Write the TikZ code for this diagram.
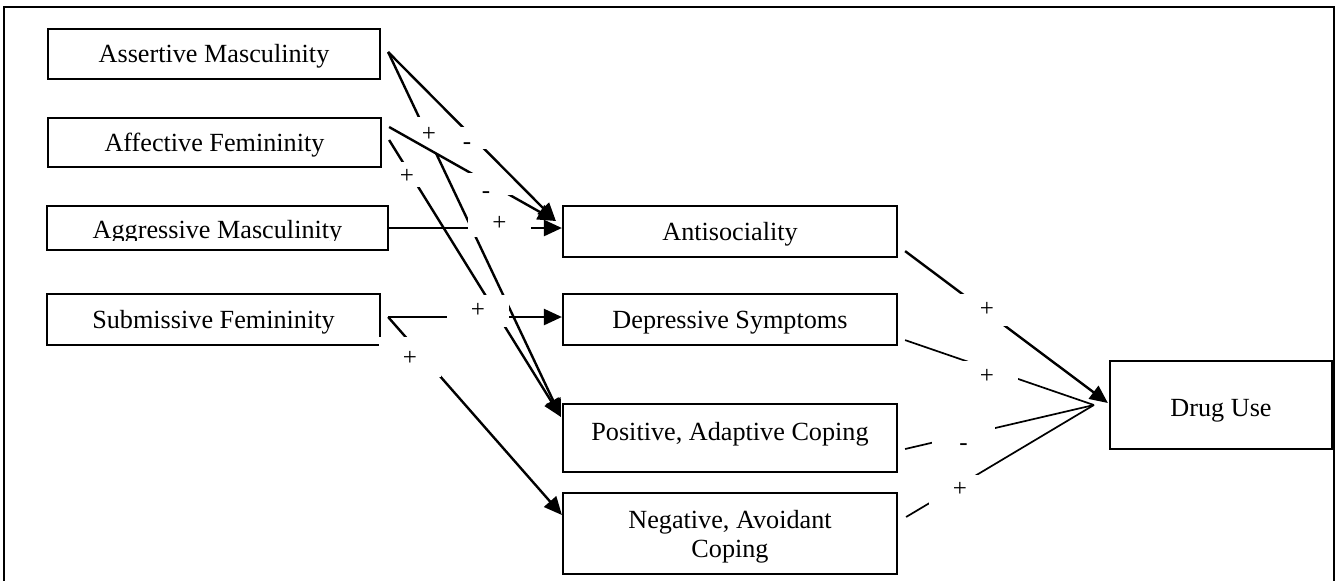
\documentclass[tikz,border=0pt]{standalone}
\usepackage{fontspec}
\setmainfont{Liberation Serif}
\usetikzlibrary{arrows.meta,calc}

\begin{document}
\begin{tikzpicture}[x=0.5pt,y=-0.5pt,
  box/.style={draw, line width=1.1pt, inner sep=0pt, font=\fontsize{13.1}{14.5}\selectfont},
  one/.style={text height=11.46pt, text depth=2.86pt},
  lbl/.style={fill=white, inner sep=0pt, font=\fontsize{12.5}{14}\selectfont, text height=6.25pt, text depth=0pt},
  conn/.style={line width=1.2pt},
  arr/.style={conn, -{Triangle[length=9pt,width=8pt]}},
  thinconn/.style={line width=0.85pt}]

\useasboundingbox (0,0) rectangle (1338,580);

% open frame round the model
\draw[line width=1.3pt] (4,600) -- (4,7) -- (1334,7) -- (1334,600);

% gender-role predictors
\node[box, one, minimum width=166pt, minimum height=25pt] (asrt) at (214,54) {Assertive Masculinity};
\node[box, one, minimum width=166.5pt, minimum height=24.5pt] (aff) at (214.5,142.5) {Affective Femininity};
\node[box, minimum width=170.5pt, minimum height=22pt] (aggr) at (217.5,228) {};
\begin{scope}
  \clip (40,200) rectangle (395,240);
  \node[box, draw=none, one] (aggrtxt) at (217.5,230) {Aggressive Masculinity};
\end{scope}
\node[box, one, minimum width=166.5pt, minimum height=25.5pt] (sub) at (213.5,319.5) {Submissive Femininity};

% mediators
\node[box, one, minimum width=167pt, minimum height=25.5pt] (anti) at (730,231.5) {Antisociality};
\node[box, one, minimum width=167pt, minimum height=25.5pt] (dep) at (730,319.5) {Depressive Symptoms};
\node[box, one, minimum width=167pt, minimum height=34pt] (pos) at (730,438) {\raisebox{3.25pt}{Positive, Adaptive Coping}};
\node[box, text height=12pt, text depth=17.5pt, minimum width=167pt, minimum height=40.5pt] (neg) at (730,533.5)
  {\begin{tabular}[t]{@{}c@{}}Negative, Avoidant\\Coping\end{tabular}};

% outcome
\node[box, one, minimum width=111pt, minimum height=44pt] (drug) at (1221,405) {\raisebox{-1.25pt}{Drug Use}};

% connector ends
\coordinate (s1) at ($(asrt.east)+(7,-2)$);
\coordinate (s3) at ($(aff.east)+(7,-15.5)$);
\coordinate (s4) at ($(aff.east)+(7,-2.5)$);
\coordinate (s6) at ($(sub.east)+(7,-2.5)$);
\coordinate (antiTip) at ($(anti.west)+(-6,-10.5)$);
\coordinate (t5) at ($(anti.west)+(0,-3.5)$);
\coordinate (posTip) at ($(pos.north west)+(-1,14)$);
\coordinate (t6) at ($(dep.west)+(0,-2.5)$);
\coordinate (t7) at ($(neg.west)+(0,-18.5)$);
\coordinate (aOut) at ($(anti.south east)+(7,-7)$);
\coordinate (dOut) at ($(dep.south east)+(7,-6)$);
\coordinate (pOut) at ($(pos.east)+(7,11)$);
\coordinate (nOut) at ($(neg.east)+(8,-16.5)$);
\coordinate (drugTip) at ($(drug.west)+(-1,-2)$);
\coordinate (conv) at ($(drug.west)+(-15,0)$);

% paths into the mediators, each with its sign
\draw[arr] (s1) -- (posTip);
\node[lbl, minimum width=18pt, minimum height=18pt] (p2) at (429,135) {+};
\draw[arr] (s4) -- (posTip);
\node[lbl, minimum width=20pt, minimum height=12.5pt] (p4) at (407,174.5) {\raisebox{-1.25pt}{+}};
\draw[arr] (aggr.east) -- (t5);
\node[lbl, minimum width=31.5pt, minimum height=13pt] (p5) at (499.5,224) {+};
\draw[arr] (s6) -- (t6);
\node[lbl, minimum width=31pt, minimum height=16pt] (p6) at (478,311) {+};
\draw[arr] (s6) -- (t7);
\node[lbl, minimum width=31pt, minimum height=20pt] (p7) at (410,357) {\raisebox{-1pt}{+}};
\draw[arr] (s3) -- (antiTip);
\node[lbl, minimum width=28pt, minimum height=11pt] (p3) at (486,184) {\raisebox{-4pt}{-}};
\draw[arr] (s1) -- (antiTip);
\node[lbl, minimum width=31pt, minimum height=11pt] (p1) at (467,138) {\raisebox{-2.5pt}{-}};

% paths into drug use
\draw[arr] (aOut) -- (drugTip);
\node[lbl, minimum width=31pt, minimum height=16pt] (p8) at (987,310) {+};
\draw[thinconn] (dOut) -- (conv);
\node[lbl, minimum width=31pt, minimum height=16pt] (p9) at (987,377) {+};
\draw[thinconn] (pOut) -- (conv);
\node[lbl, minimum width=31.5pt, minimum height=14pt] (p10) at (963.5,441) {\raisebox{-1.5pt}{-}};
\draw[thinconn] (nOut) -- (conv);
\node[lbl, minimum width=31pt, minimum height=15pt] (p11) at (960,490) {+};

\end{tikzpicture}
\end{document}
